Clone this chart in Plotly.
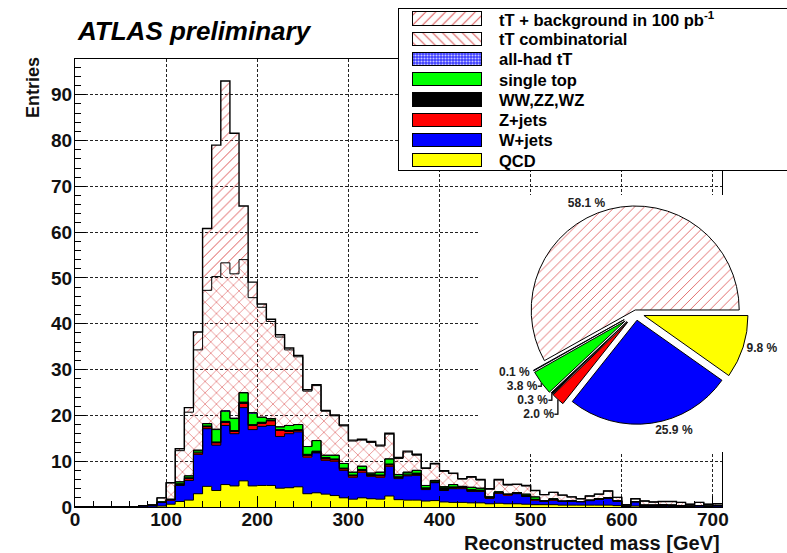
import numpy as np
import plotly.graph_objects as go

FIG_W, FIG_H = 787, 553
FONT = "Liberation Sans, Arial, Helvetica, sans-serif"
HATCH = "#dd5555"
CLEAR = "rgba(255,255,255,0)"

# ---------------------------------------------------------------- data
bin_width = 10
bin_lo = np.arange(0, 710, bin_width)          # 71 bins, 0..710 GeV
centers = bin_lo + bin_width / 2
edges = np.append(bin_lo, 710)

pad0 = [0] * 7                                  # empty bins 0-70 GeV

qcd = pad0 + [0, 0, 0.2, 0.6, 1.2, 1.5, 2.9, 4.5, 3.6, 4.9, 4.6, 5.7, 4.6, 4.7, 4.7, 4.1,
              4.2, 4.4, 2.9, 3.1, 2.8, 2.5, 2.0, 1.7, 2.0, 1.8, 1.7, 2.4, 1.6, 1.5, 1.5, 1.3,
              1.4, 1.1, 1.0, 1.0, 0.9, 0.9, 0.7, 0.8, 0.7, 0.7, 0.6, 0.5, 0.5, 0.5, 0.4, 0.4,
              0.4, 0.4, 0.4, 0.4, 0.3, 0.1, 0.2, 0.1, 0.1, 0.1, 0.1, 0.1, 0, 0, 0, 0]
wjets = pad0 + [0.3, 0.4, 0.8, 0.9, 3.5, 4.3, 8.6, 12.6, 9.9, 12.9, 11.4, 16.0, 12.3, 12.9, 13.1, 11.3,
                11.8, 12.0, 8.0, 8.7, 7.4, 7.5, 6.0, 4.8, 5.6, 4.9, 4.8, 6.5, 4.6, 5.3, 5.4, 2.5,
                3.9, 2.5, 3.0, 3.0, 2.5, 2.5, 1.2, 2.2, 1.9, 2.2, 1.7, 1.0, 0.7, 1.0, 0.8, 0.9,
                0.7, 1.0, 1.3, 1.5, 1.0, 0.1, 0.9, 0.3, 0.3, 0.3, 0.3, 0.2, 0.2, 0.3, 0.2, 0.3]
zjets = pad0 + [0, 0, 0, 0.1, 0.2, 0.4, 0.3, 0.4, 0.5, 0.7, 0.5, 1.0, 0.9, 0.7, 1.0, 1.3,
                0.5, 0.3, 0.4, 0.2, 0.3, 0.3, 0.3, 0.3, 0.4, 0.2, 0.3, 0.3, 0.3, 0.2, 0.3, 0.2,
                0.1, 0.2, 0.2, 0.3, 0.2, 0.2, 0.1, 0.1, 0.1, 0.1, 0.1, 0.1, 0.1, 0.1, 0, 0,
                0.1, 0, 0, 0, 0, 0, 0, 0, 0, 0, 0, 0, 0, 0, 0, 0]
diboson = pad0 + [0, 0, 0, 0, 0.2, 0.2, 0.2, 0.2, 0.2, 0.2, 0.2, 0.2, 0.2, 0.2, 0.2, 0.2,
                  0.2, 0.2, 0.2, 0.2, 0.3, 0.2, 0.2, 0.2, 0.2, 0.2, 0.2, 0.2, 0.2, 0.2, 0.2, 0.2,
                  0.2, 0.5, 0.2, 0.1, 0.2, 0.1, 0.1, 0.1, 0.1, 0.1, 0.1, 0.1, 0, 0, 0.1, 0.1,
                  0, 0.1, 0.1, 0.1, 0.1, 0, 0.1, 0, 0, 0.1, 0, 0, 0, 0, 0, 0]
single_top = pad0 + [0, 0, 0.1, 0.1, 0.4, 0.4, 0.4, 0.5, 2.7, 2.2, 2.6, 2.0, 2.5, 1.1, 0.3, 0.6,
                     1.1, 1.1, 1.7, 2.3, 0.5, 0.8, 1.0, 0.6, 0.7, 0.3, 0.6, 1.1, 0.4, 0.4, 0.6, 0.5,
                     0.2, 0.1, 0.5, 0.1, 0.5, 0.4, 0.1, 0.1, 0, 0, 0.3, 0.5, 0.1, 0.2, 0, 0,
                     0, 0, 0, 0, 0, 0, 0, 0, 0, 0, 0, 0, 0, 0, 0, 0]
allhad_tt = pad0 + [0, 0, 0, 0, 0, 0, 0, 0, 0.1, 0.1, 0.1, 0.1, 0.1, 0, 0, 0,
                    0, 0, 0, 0, 0, 0, 0, 0, 0, 0, 0, 0, 0, 0, 0, 0,
                    0, 0, 0, 0, 0, 0, 0, 0, 0, 0, 0, 0, 0, 0, 0, 0,
                    0, 0, 0, 0, 0, 0, 0, 0, 0, 0, 0, 0, 0, 0, 0, 0]
tt_comb = pad0 + [0, 0, 0.9, 3.6, 6.8, 13.9, 21.9, 29.1, 33.3, 32.3, 31.5, 29.0, 25.1, 24.0, 21.2, 19.6,
                  16.5, 14.8, 12.1, 12.0, 9.6, 8.6, 8.2, 6.8, 5.7, 6.7, 5.7, 5.4, 3.5, 4.4, 3.3, 3.7,
                  3.6, 3.4, 2.4, 1.6, 2.2, 1.8, 1.7, 2.6, 2.0, 1.8, 1.8, 1.4, 1.3, 1.4, 1.3, 0.8,
                  0.6, 0.9, 1.0, 1.5, 0.7, 0.3, 0.6, 0.9, 0.7, 0.7, 0.8, 0.7, 0.4, 0.7, 0.4, 0.4]
tt_signal = pad0 + [0, 0, 0, 0, 0.4, 1.0, 3.9, 13.5, 28.7, 39.7, 30.7, 11.7, 3.4, 0.7, 0.5, 0.5,
                    0.4, 0.3, 0.3, 0.2, 0.2, 0.2, 0.2, 0.2, 0.2, 0.2, 0.2, 0.2, 0.2, 0.2, 0.2, 0.1,
                    0.1, 0.1, 0.1, 0.1, 0.1, 0.1, 0.1, 0.1, 0.1, 0.1, 0.1, 0, 0, 0, 0, 0,
                    0, 0, 0, 0, 0, 0, 0, 0, 0, 0, 0, 0, 0, 0, 0, 0]

# sample fractions shown in the inset pie (percent)
pie_labels = ["QCD", "W+jets", "Z+jets", "WW,ZZ,WZ", "single top", "all-had tT", "tT"]
pie_pct = [9.8, 25.9, 2.0, 0.3, 3.8, 0.1, 58.1]

legend_labels = ["tT + background in 100 pb<sup>-1</sup>", "tT combinatorial", "all-had tT",
                 "single top", "WW,ZZ,WZ", "Z+jets", "W+jets", "QCD"]

# ---------------------------------------------------------------- styles
def solid(c):
    return dict(color=c, line=dict(width=0))


def hatched(shape, fg=HATCH, bg=CLEAR, size=8, solidity=0.14):
    return dict(shape=shape, fillmode="overlay", fgcolor=fg, bgcolor=bg,
                fgopacity=1, size=size, solidity=solidity)


ALLHAD = "#3a3aff"
layers = [
    (qcd, solid("#ffff00")),
    (wjets, solid("#0000ff")),
    (zjets, solid("#ff0000")),
    (diboson, solid("#000000")),
    (single_top, solid("#00ff00")),
    (allhad_tt, dict(color=ALLHAD, line=dict(width=0),
                     pattern=hatched(".", fg="#c8c8ff", bg=ALLHAD, size=3, solidity=0.4))),
    (tt_comb, dict(color=CLEAR, line=dict(width=0), pattern=hatched("x"))),
    (tt_signal, dict(color=CLEAR, line=dict(width=0), pattern=hatched("/", size=7))),
]

fig = go.Figure()

# stacked histogram fills
for vals, marker in layers:
    fig.add_trace(go.Bar(x=centers, y=vals, width=bin_width, marker=marker,
                         xaxis="x", yaxis="y", showlegend=False, hoverinfo="skip"))

# step outlines of every cumulative layer
cum = np.zeros(len(bin_lo))
for i, (vals, _) in enumerate(layers):
    cum = cum + np.asarray(vals, dtype=float)
    top = i == len(layers) - 1
    fig.add_trace(go.Scatter(x=edges, y=np.append(cum, cum[-1]), mode="lines",
                             line=dict(color="black", width=1.4 if top else 1, shape="hv"),
                             xaxis="x", yaxis="y", showlegend=False, hoverinfo="skip"))

# white pad behind the pie (inset subplot background)
fig.add_trace(go.Scatter(x=[None], y=[None], xaxis="x2", yaxis="y2", showlegend=False))

# legend box swatches, one per entry
row_pitch = 20.24
rows = [10 + row_pitch * i for i in range(len(legend_labels))]
sw_fill = ["white", "white", ALLHAD, "#00ff00", "#000000", "#ff0000", "#0000ff", "#ffff00"]
sw_pattern = [hatched("/", bg="white", size=7, solidity=0.15),
              hatched("\\", bg="white", size=7, solidity=0.15),
              hatched(".", fg="#c8c8ff", bg=ALLHAD, size=3, solidity=0.4),
              None, None, None, None, None]
for r, fill, pat in zip(rows, sw_fill, sw_pattern):
    marker = dict(color=fill, line=dict(color="black", width=1))
    if pat is not None:
        marker["pattern"] = pat
    fig.add_trace(go.Bar(y=[r], x=[69], base=[14.3], width=13.4, orientation="h",
                         xaxis="x3", yaxis="y3", showlegend=False, hoverinfo="skip",
                         marker=marker))

# inset pie
pie_cx, pie_cy, pie_r = 636, 313, 104
pulls = [0.08, 0.07, 0.12, 0.12, 0.13, 0.13, 0.03]
half = pie_r * (1 + max(pulls))
fig.add_trace(go.Pie(
    labels=pie_labels, values=pie_pct, sort=False, direction="clockwise", rotation=90,
    pull=pulls, text=[f"{p:.1f} %" for p in pie_pct], textinfo="text",
    textposition="outside", showlegend=False, hoverinfo="skip",
    textfont=dict(family=FONT, size=12, color="#222", weight="bold"),
    marker=dict(colors=["#ffff00", "#0000ff", "#ff0000", "#000000", "#00ff00", ALLHAD, "white"],
                line=dict(color="black", width=1),
                pattern=dict(shape=["", "", "", "", "", ".", "/"],
                             fgcolor=["black"] * 5 + ["#c8c8ff", HATCH],
                             fgopacity=1, fillmode="overlay", size=7, solidity=0.12)),
    domain=dict(x=[(pie_cx - half) / FIG_W, (pie_cx + half) / FIG_W],
                y=[(FIG_H - pie_cy - half) / FIG_H, (FIG_H - pie_cy + half) / FIG_H]),
))

# ---------------------------------------------------------------- layout
px_x = lambda p: p / FIG_W
px_y = lambda p: (FIG_H - p) / FIG_H
tickfont = dict(family=FONT, size=19, color="#111", weight="bold")
hidden = dict(showline=False, showgrid=False, zeroline=False, showticklabels=False,
              ticks="", automargin=False)

fig.update_layout(
    width=FIG_W, height=FIG_H, autosize=False,
    margin=dict(l=0, r=0, t=0, b=0, pad=0, autoexpand=False),
    paper_bgcolor="white", plot_bgcolor="white",
    barmode="stack", bargap=0, showlegend=False,
    font=dict(family=FONT, color="black"),
    xaxis=dict(domain=[px_x(75), px_x(722)], range=[0, 710], anchor="y", automargin=False,
               showline=True, mirror=True, linecolor="black", linewidth=1,
               ticks="inside", ticklen=11, tickcolor="black", tick0=0, dtick=100,
               minor=dict(dtick=20, ticks="inside", ticklen=6, tickcolor="black", showgrid=False),
               showgrid=True, gridcolor="#222", griddash="3px,2px", gridwidth=1,
               zeroline=False, tickfont=tickfont, ticklabelstandoff=-5),
    yaxis=dict(domain=[px_y(507), px_y(59)], range=[0, 97.8], anchor="x", automargin=False,
               showline=True, mirror=True, linecolor="black", linewidth=1,
               ticks="inside", ticklen=11, tickcolor="black", tick0=0, dtick=10,
               minor=dict(dtick=2, ticks="inside", ticklen=6, tickcolor="black", showgrid=False),
               showgrid=True, gridcolor="#222", griddash="3px,2px", gridwidth=1,
               zeroline=False, tickfont=tickfont, ticklabelstandoff=-2),
    xaxis2=dict(domain=[px_x(478), 1], range=[0, 1], anchor="y2", **hidden),
    yaxis2=dict(domain=[px_y(452), px_y(195)], range=[0, 1], anchor="x2", **hidden),
    xaxis3=dict(domain=[px_x(399), 1], range=[0, 388], anchor="y3", automargin=False,
                showline=True, mirror=True, linecolor="black", linewidth=1,
                showgrid=False, zeroline=False, showticklabels=False, ticks=""),
    yaxis3=dict(domain=[px_y(170), px_y(9)], range=[161, 0], anchor="x3", automargin=False,
                showline=True, linecolor="black", linewidth=1,
                showgrid=False, zeroline=False, showticklabels=False, ticks=""),
)

annotations = [
    dict(text="ATLAS preliminary", x=px_x(75), y=px_y(31), xref="paper", yref="paper",
         xanchor="left", yanchor="middle", showarrow=False,
         font=dict(family=FONT, size=26, color="black", weight="bold", style="italic")),
    dict(text="Entries", x=px_x(33), y=px_y(88), xref="paper", yref="paper",
         xanchor="center", yanchor="middle", textangle=-90, showarrow=False,
         font=dict(family=FONT, size=18, color="#111", weight="bold")),
    dict(text="Reconstructed mass [GeV]", x=px_x(722), y=px_y(543), xref="paper", yref="paper",
         xanchor="right", yanchor="middle", showarrow=False,
         font=dict(family=FONT, size=20, color="#111", weight="bold")),
]
for label, r in zip(legend_labels, rows):
    annotations.append(dict(text=label, x=97.7, y=r, xref="x3", yref="y3",
                            xanchor="left", yanchor="middle", showarrow=False,
                            font=dict(family=FONT, size=16.5, color="black", weight="bold")))
fig.update_layout(annotations=annotations)

fig.write_html("out.html")
